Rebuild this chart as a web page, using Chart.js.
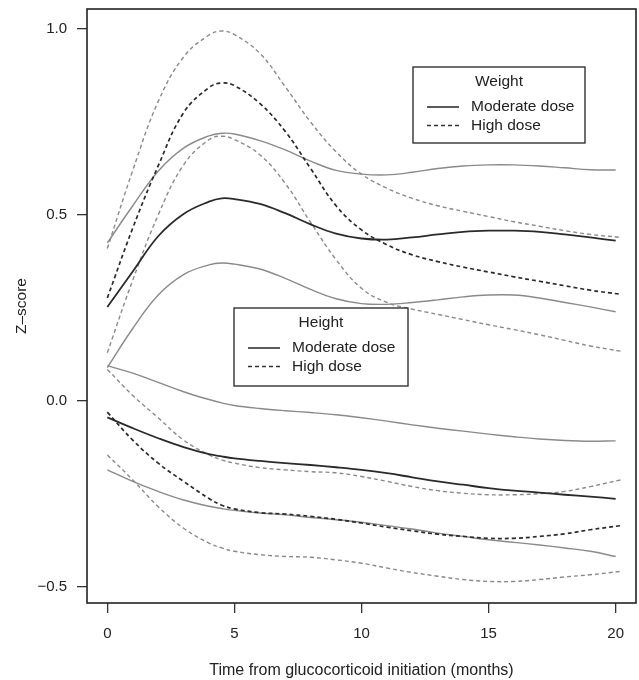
<!DOCTYPE html>
<html>
<head>
<meta charset="utf-8">
<script src="https://cdn.jsdelivr.net/npm/chart.js@4/dist/chart.umd.min.js"></script>
<style>
  html, body { margin: 0; padding: 0; background: #fff; }
  #wrap { width: 639px; height: 680px; position: relative; }
</style>
</head>
<body>
<div id="wrap"><canvas id="c" width="639" height="680"></canvas></div>
<script>
// ---- data ----
const months     = [0, 1, 2, 3, 4, 4.5, 5, 6, 7, 8, 9, 10, 11, 12, 13, 14, 15, 16, 17, 18, 19, 20];
const monthsHigh = [0, 1, 2, 3, 4, 4.5, 5, 6, 7, 8, 9, 10, 11, 12, 13, 14, 15, 16, 17, 18, 19, 20.2];

// Weight, moderate dose
const wModMean  = [0.253, 0.348, 0.443, 0.503, 0.536, 0.545, 0.543, 0.53, 0.505, 0.475, 0.45, 0.437, 0.434, 0.44, 0.448, 0.455, 0.458, 0.458, 0.455, 0.448, 0.44, 0.431];
const wModUpper = [0.425, 0.525, 0.618, 0.68, 0.713, 0.72, 0.718, 0.70, 0.675, 0.645, 0.62, 0.61, 0.608, 0.615, 0.625, 0.632, 0.635, 0.635, 0.632, 0.627, 0.622, 0.621];
const wModLower = [0.09, 0.195, 0.285, 0.34, 0.366, 0.371, 0.368, 0.355, 0.33, 0.30, 0.275, 0.262, 0.26, 0.265, 0.272, 0.28, 0.285, 0.285, 0.277, 0.265, 0.253, 0.24];
// Weight, high dose
const wHighMean  = [0.277, 0.465, 0.632, 0.775, 0.843, 0.855, 0.848, 0.80, 0.725, 0.625, 0.525, 0.46, 0.42, 0.393, 0.375, 0.36, 0.347, 0.334, 0.322, 0.31, 0.298, 0.287];
const wHighUpper = [0.41, 0.62, 0.805, 0.925, 0.984, 0.995, 0.985, 0.935, 0.845, 0.75, 0.67, 0.61, 0.572, 0.545, 0.525, 0.51, 0.496, 0.482, 0.47, 0.458, 0.448, 0.44];
const wHighLower = [0.13, 0.325, 0.5, 0.635, 0.703, 0.712, 0.703, 0.662, 0.585, 0.48, 0.38, 0.303, 0.265, 0.247, 0.233, 0.219, 0.205, 0.192, 0.178, 0.163, 0.148, 0.134];
// Height, moderate dose
const hModUpper = [0.095, 0.075, 0.05, 0.025, 0.004, -0.005, -0.012, -0.02, -0.026, -0.031, -0.037, -0.045, -0.054, -0.064, -0.073, -0.081, -0.089, -0.096, -0.102, -0.106, -0.108, -0.107];
const hModMean  = [-0.044, -0.073, -0.1, -0.124, -0.143, -0.149, -0.154, -0.161, -0.167, -0.172, -0.178, -0.185, -0.194, -0.205, -0.216, -0.225, -0.234, -0.241, -0.246, -0.252, -0.257, -0.263];
const hModLower = [-0.185, -0.216, -0.243, -0.266, -0.283, -0.289, -0.294, -0.301, -0.306, -0.313, -0.319, -0.326, -0.335, -0.344, -0.355, -0.364, -0.373, -0.38, -0.387, -0.395, -0.404, -0.418];
// Height, high dose
const hHighUpper = [0.085, 0.015, -0.045, -0.105, -0.145, -0.158, -0.167, -0.179, -0.185, -0.19, -0.193, -0.203, -0.216, -0.23, -0.241, -0.248, -0.252, -0.252, -0.249, -0.243, -0.23, -0.212];
const hHighMean  = [-0.03, -0.105, -0.167, -0.216, -0.262, -0.28, -0.29, -0.30, -0.304, -0.31, -0.318, -0.328, -0.339, -0.349, -0.358, -0.364, -0.369, -0.369, -0.364, -0.357, -0.346, -0.335];
const hHighLower = [-0.145, -0.212, -0.284, -0.342, -0.382, -0.395, -0.404, -0.413, -0.418, -0.42, -0.427, -0.436, -0.449, -0.461, -0.471, -0.48, -0.485, -0.485, -0.48, -0.473, -0.467, -0.458];

const xTicks = [0, 5, 10, 15, 20];
const yTicks = [-0.5, 0, 0.5, 1.0];
const xTitle = 'Time from glucocorticoid initiation (months)';
const yTitle = 'Z\u2013score';
const legendWeight = { title: 'Weight', items: ['Moderate dose', 'High dose'] };
const legendHeight = { title: 'Height', items: ['Moderate dose', 'High dose'] };

// ---- styling ----
const FONT = '"Liberation Sans", Arial, Helvetica, sans-serif';
const DARK = '#2a2a2a';
const GRAY = '#8a8a8a';
const DASH = [4, 3];

function pts(xs, ys) { return xs.map((x, i) => ({ x: x, y: ys[i] })); }
function ds(label, xs, ys, color, width, dashed) {
  return {
    label: label,
    data: pts(xs, ys),
    borderColor: color,
    borderWidth: width,
    borderDash: dashed ? DASH : [],
    pointRadius: 0,
    fill: false,
    tension: 0.4
  };
}

const datasets = [
  ds('Weight moderate mean', months, wModMean, DARK, 1.8, false),
  ds('Weight high mean', monthsHigh, wHighMean, DARK, 1.7, true),
  ds('Height moderate mean', months, hModMean, DARK, 1.8, false),
  ds('Height high mean', monthsHigh, hHighMean, DARK, 1.7, true),
  ds('Weight moderate upper', months, wModUpper, GRAY, 1.4, false),
  ds('Weight moderate lower', months, wModLower, GRAY, 1.4, false),
  ds('Weight high upper', monthsHigh, wHighUpper, GRAY, 1.4, true),
  ds('Weight high lower', monthsHigh, wHighLower, GRAY, 1.4, true),
  ds('Height moderate upper', months, hModUpper, GRAY, 1.4, false),
  ds('Height moderate lower', months, hModLower, GRAY, 1.4, false),
  ds('Height high upper', monthsHigh, hHighUpper, GRAY, 1.4, true),
  ds('Height high lower', monthsHigh, hHighLower, GRAY, 1.4, true)
];

function drawLegend(ctx, box, lg) {
  ctx.save();
  ctx.strokeStyle = '#333';
  ctx.lineWidth = 1.4;
  ctx.setLineDash([]);
  ctx.strokeRect(box.x, box.y, box.w, box.h);
  ctx.fillStyle = '#222';
  ctx.font = '15.5px ' + FONT;
  ctx.textBaseline = 'middle';
  ctx.textAlign = 'center';
  ctx.fillText(lg.title, box.x + box.w / 2, box.y + 15);
  ctx.textAlign = 'left';
  lg.items.forEach((t, i) => {
    const yy = box.y + 40 + i * 18.5;
    ctx.beginPath();
    ctx.strokeStyle = '#333';
    ctx.lineWidth = 1.6;
    ctx.setLineDash(i === 1 ? DASH : []);
    ctx.moveTo(box.x + 14, yy);
    ctx.lineTo(box.x + 46, yy);
    ctx.stroke();
    ctx.setLineDash([]);
    ctx.fillText(t, box.x + 58, yy);
  });
  ctx.restore();
}

const framePlugin = {
  id: 'frame',
  afterDraw(chart) {
    const ctx = chart.ctx;
    const a = chart.chartArea;
    ctx.save();
    ctx.strokeStyle = '#222';
    ctx.lineWidth = 1.6;
    ctx.setLineDash([]);
    ctx.strokeRect(a.left, a.top, a.right - a.left, a.bottom - a.top);
    ctx.restore();
    drawLegend(ctx, { x: a.left + 326, y: a.top + 58, w: 172, h: 76 }, legendWeight);
    drawLegend(ctx, { x: a.left + 147, y: a.top + 299, w: 174, h: 78 }, legendHeight);
  }
};

new Chart(document.getElementById('c'), {
  type: 'line',
  data: { datasets: datasets },
  plugins: [framePlugin],
  options: {
    responsive: false,
    animation: false,
    devicePixelRatio: 1,
    layout: { padding: { top: 9, right: 3, left: 0, bottom: 0 } },
    plugins: { legend: { display: false }, tooltip: { enabled: false } },
    scales: {
      x: {
        type: 'linear',
        min: -0.8,
        max: 20.8,
        afterBuildTicks(s) { s.ticks = xTicks.map(v => ({ value: v })); },
        afterFit(s) { s.height = 77; s.paddingLeft = 0; s.paddingRight = 0; },
        grid: { drawOnChartArea: false, drawTicks: true, tickLength: 10, color: '#333', lineWidth: 1.3 },
        border: { display: false },
        ticks: { color: '#222', font: { family: FONT, size: 15 }, padding: 12, maxRotation: 0, autoSkip: false,
                 callback: v => String(v) },
        title: { display: true, text: xTitle, color: '#222', font: { family: FONT, size: 16 }, padding: { top: 0, bottom: 0 } }
      },
      y: {
        type: 'linear',
        min: -0.543,
        max: 1.054,
        afterBuildTicks(s) { s.ticks = yTicks.map(v => ({ value: v })); },
        afterFit(s) { s.width = 87; s.paddingTop = 0; s.paddingBottom = 0; },
        grid: { drawOnChartArea: false, drawTicks: true, tickLength: 10, color: '#333', lineWidth: 1.3 },
        border: { display: false },
        ticks: { color: '#222', font: { family: FONT, size: 15 }, padding: 10, autoSkip: false,
                 callback: v => (v < 0 ? '\u2212' : '') + Math.abs(v).toFixed(1) },
        title: { display: true, text: yTitle, color: '#222', font: { family: FONT, size: 15.5 }, padding: { top: 12, bottom: 0 } }
      }
    }
  }
});
</script>
</body>
</html>
